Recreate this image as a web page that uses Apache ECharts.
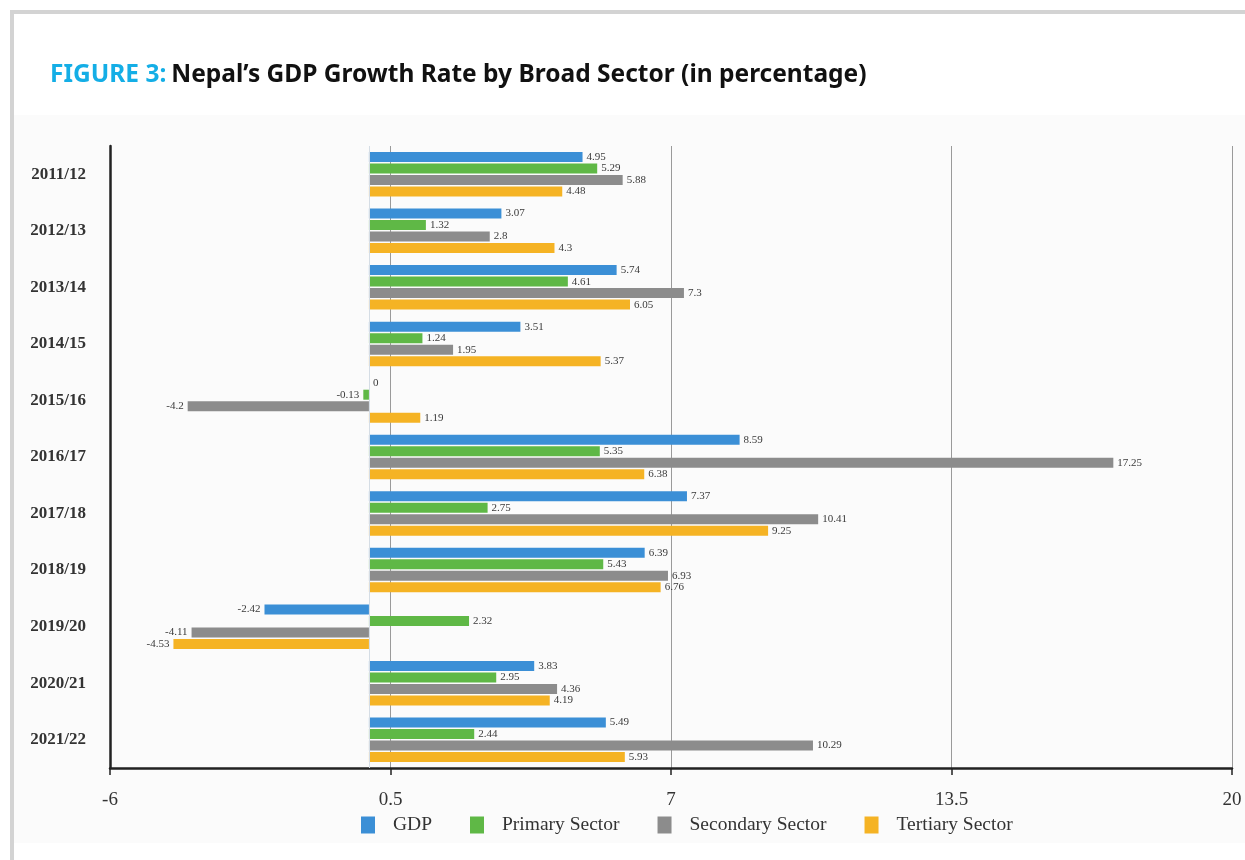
<!DOCTYPE html>
<html>
<head>
<meta charset="utf-8">
<script src="https://cdn.jsdelivr.net/npm/echarts@6/dist/echarts.min.js"></script>
<style>
  html, body { margin: 0; padding: 0; background: #ffffff; }
  #chart { width: 1245px; height: 860px; }
</style>
</head>
<body>
<div id="chart"></div>
<script>
// Fiscal years (top to bottom)
const years = ['2011/12', '2012/13', '2013/14', '2014/15', '2015/16', '2016/17',
               '2017/18', '2018/19', '2019/20', '2020/21', '2021/22'];

// Growth rates in percent
const gdp       = [4.95, 3.07, 5.74, 3.51, 0,     8.59, 7.37, 6.39, -2.42, 3.83, 5.49];
const primary   = [5.29, 1.32, 4.61, 1.24, -0.13, 5.35, 2.75, 5.43, 2.32,  2.95, 2.44];
const secondary = [5.88, 2.8,  7.3,  1.95, -4.2,  17.25, 10.41, 6.93, -4.11, 4.36, 10.29];
const tertiary  = [4.48, 4.3,  6.05, 5.37, 1.19,  6.38, 9.25, 6.76, -4.53, 4.19, 5.93];

const seriesNames = ['GDP', 'Primary Sector', 'Secondary Sector', 'Tertiary Sector'];
const seriesColors = ['#3b8fd6', '#5fb846', '#8c8c8c', '#f5b324'];

const serif = '"Liberation Serif", "DejaVu Serif", serif';

function makeSeries(name, values, color, withZeroLine) {
  const s = {
    name: name,
    type: 'bar',
    barWidth: 10,
    barGap: '15%',
    itemStyle: { color: color },
    label: {
      show: true,
      fontFamily: serif,
      fontSize: 11,
      color: '#3a3a3a',
      distance: 4
    },
    data: values.map(v => ({
      value: v,
      label: { position: v < 0 ? 'left' : 'right' }
    }))
  };
  if (withZeroLine) {
    s.markLine = {
      silent: true,
      symbol: 'none',
      label: { show: false },
      lineStyle: { color: '#d5dde5', width: 1, type: 'solid' },
      data: [{ xAxis: 0 }]
    };
  }
  return s;
}

const chart = echarts.init(document.getElementById('chart'), null, { renderer: 'canvas' });

chart.setOption({
  backgroundColor: '#ffffff',
  animation: false,
  graphic: [
    // page frame and plot backdrop
    { type: 'rect', z: -10, shape: { x: 14, y: 115, width: 1231, height: 728 },
      style: { fill: '#fbfbfb' } },
    { type: 'rect', z: -5, shape: { x: 10, y: 10, width: 1235, height: 4 },
      style: { fill: '#d3d3d3' } },
    { type: 'rect', z: -5, shape: { x: 10, y: 10, width: 4, height: 850 },
      style: { fill: '#d3d3d3' } }
  ],
  title: {
    left: 45,
    top: 58,
    text: '{a|FIGURE 3:} {b|Nepal\u2019s GDP Growth Rate by Broad Sector (in percentage)}',
    textStyle: {
      rich: {
        a: { fontFamily: '"Noto Sans", "Open Sans", sans-serif', fontWeight: 'bold', fontSize: 24.5, color: '#14aee6' },
        b: { fontFamily: '"Noto Sans", "Open Sans", sans-serif', fontWeight: 'bold', fontSize: 24.5, color: '#111111' }
      }
    }
  },
  legend: {
    left: 356,
    top: 810,
    icon: 'rect',
    itemWidth: 14,
    itemHeight: 17,
    itemGap: 38,
    textStyle: { fontFamily: serif, fontSize: 19.5, color: '#333333', padding: [0, 0, 0, 13] },
    data: seriesNames
  },
  grid: {
    left: 110,
    right: 13,
    top: 146,
    bottom: 92,
    containLabel: false
  },
  xAxis: {
    type: 'value',
    min: -6,
    max: 20,
    interval: 6.5,
    axisLine: { show: true, onZero: false, lineStyle: { color: '#222222', width: 2.5 } },
    axisTick: { show: true, inside: false, length: 7, lineStyle: { color: '#222222', width: 1.5 } },
    axisLabel: { fontFamily: serif, fontSize: 19, color: '#333333', margin: 23 },
    splitLine: { show: true, lineStyle: { color: '#9a9a9a', width: 1 } }
  },
  yAxis: {
    type: 'category',
    inverse: true,
    data: years,
    axisLine: { show: true, onZero: false, lineStyle: { color: '#222222', width: 2.5 } },
    axisTick: { show: false },
    axisLabel: { fontFamily: serif, fontSize: 17, fontWeight: 'bold', color: '#333333', margin: 24 }
  },
  series: [
    makeSeries(seriesNames[0], gdp, seriesColors[0], true),
    makeSeries(seriesNames[1], primary, seriesColors[1], false),
    makeSeries(seriesNames[2], secondary, seriesColors[2], false),
    makeSeries(seriesNames[3], tertiary, seriesColors[3], false)
  ]
});
</script>
</body>
</html>
